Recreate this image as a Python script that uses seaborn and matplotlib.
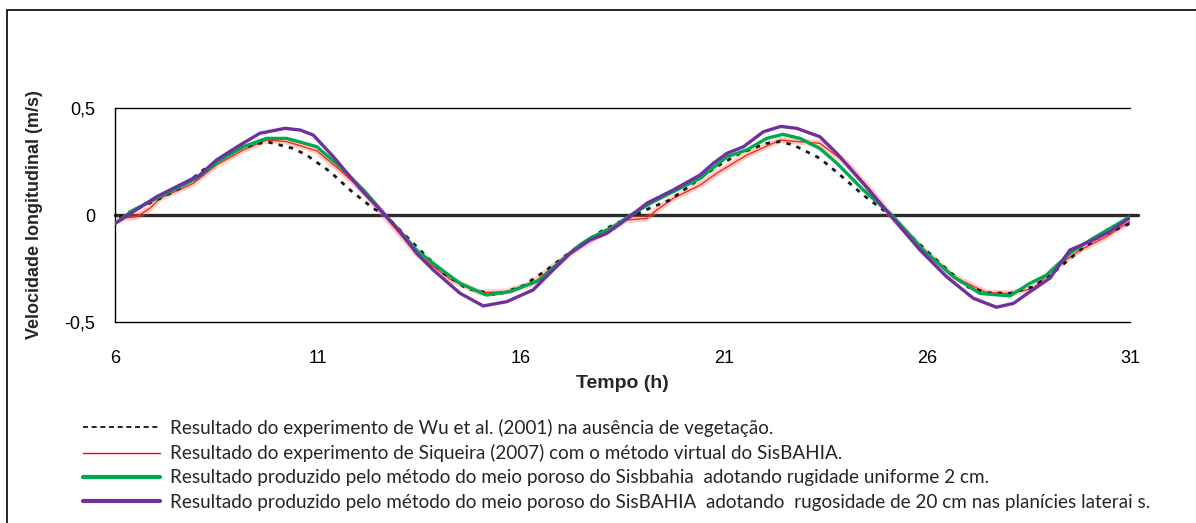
import numpy as np
import pandas as pd
import matplotlib
matplotlib.use("Agg")
import matplotlib.pyplot as plt
import seaborn as sns
from matplotlib.patches import Rectangle
from matplotlib.lines import Line2D
from matplotlib.font_manager import FontProperties

# ---------------- data ----------------
wu_t = [6.1, 6.37, 7.03, 7.60, 8.17, 9.08, 9.73, 10.39, 10.72, 11.30, 11.79, 12.36, 12.65,
        13.43, 14.09, 14.66, 15.40, 16.06, 16.63, 17.45, 18.03, 18.60, 19.26, 19.67, 20.24,
        20.82, 21.39, 22.05, 22.38, 22.71, 23.36, 23.86, 24.43, 25.09, 25.66, 26.32, 26.98,
        27.47, 28.04, 28.62, 29.19, 29.77, 30.26, 31.0]
wu_v = [-0.01, 0.015, 0.070, 0.125, 0.210, 0.311, 0.343, 0.311, 0.280, 0.202, 0.117, 0.031, 0.0,
        -0.148, -0.272, -0.343, -0.374, -0.330, -0.257, -0.140, -0.070, -0.016, 0.039, 0.070, 0.148,
        0.226, 0.288, 0.335, 0.343, 0.327, 0.265, 0.187, 0.093, 0.0, -0.109, -0.226, -0.335,
        -0.363, -0.366, -0.335, -0.257, -0.164, -0.101, -0.039]

siq_t = [6.12, 6.53, 6.86, 7.11, 7.93, 8.5, 9.16, 9.73, 10.23, 10.97, 11.54, 12.12, 12.69,
         13.43, 14.25, 14.99, 15.65, 16.31, 16.79, 17.45, 18.11, 18.60, 19.1, 19.34, 19.75,
         20.41, 20.82, 21.56, 22.38, 23.36, 24.02, 24.6, 25.13, 25.83, 26.65, 27.47, 28.04,
         28.62, 29.19, 29.77, 30.42, 31.0]
siq_v = [-0.016, -0.008, 0.031, 0.078, 0.148, 0.234, 0.304, 0.350, 0.343, 0.300, 0.210, 0.110, -0.016,
         -0.180, -0.300, -0.363, -0.358, -0.319, -0.241, -0.148, -0.078, -0.023, -0.016, 0.023, 0.078,
         0.140, 0.195, 0.280, 0.350, 0.335, 0.242, 0.117, -0.008, -0.148, -0.288, -0.363, -0.366,
         -0.343, -0.241, -0.164, -0.101, -0.030]

green_t = [6.0, 6.45, 7.27, 8.01, 8.59, 9.16, 9.73, 10.23, 10.97, 11.54, 12.12, 12.69, 13.02,
           13.43, 13.84, 14.50, 15.15, 15.73, 16.47, 16.96, 17.45, 17.70, 18.27, 18.77, 19.26,
           19.75, 20.41, 21.07, 21.56, 22.05, 22.45, 22.87, 23.36, 23.78, 24.43, 25.13, 25.91,
           26.65, 27.30, 28.04, 28.54, 28.95, 29.52, 30.02, 31.0]
green_v = [-0.040, 0.023, 0.101, 0.171, 0.257, 0.319, 0.358, 0.358, 0.319, 0.226, 0.117, -0.008, -0.075,
           -0.164, -0.226, -0.320, -0.374, -0.358, -0.304, -0.218, -0.140, -0.109, -0.055, 0.008, 0.062,
           0.109, 0.171, 0.272, 0.304, 0.358, 0.377, 0.358, 0.311, 0.242, 0.117, 0.0, -0.164,
           -0.288, -0.366, -0.378, -0.319, -0.280, -0.179, -0.117, -0.008]

purple_t = [6.0, 6.45, 7.03, 7.85, 8.09, 8.5, 9.08, 9.57, 10.19, 10.56, 10.88, 11.38, 12.03,
            12.69, 13.02, 13.43, 13.84, 14.50, 15.07, 15.65, 16.30, 16.71, 17.21, 17.70, 18.11,
            18.68, 19.1, 19.75, 20.41, 20.74, 21.07, 21.48, 21.97, 22.4, 22.79, 23.36, 23.78,
            24.43, 25.13, 25.83, 26.48, 27.14, 27.71, 28.13, 28.54, 29.03, 29.52, 30.09, 30.5, 31.0]
purple_v = [-0.040, 0.015, 0.086, 0.164, 0.187, 0.257, 0.327, 0.382, 0.405, 0.397, 0.374, 0.272, 0.125,
            -0.008, -0.078, -0.179, -0.257, -0.366, -0.425, -0.405, -0.350, -0.272, -0.179, -0.117, -0.086,
            -0.008, 0.055, 0.117, 0.187, 0.242, 0.288, 0.319, 0.389, 0.414, 0.405, 0.366, 0.288,
            0.148, -0.008, -0.164, -0.288, -0.389, -0.431, -0.413, -0.358, -0.295, -0.164, -0.117, -0.078, -0.012]

labels = [
    "Resultado do experimento de Wu et al. (2001) na ausência de vegetação.",
    "Resultado do experimento de Siqueira (2007) com o método virtual do SisBAHIA.",
    "Resultado produzido pelo método do meio poroso do Sisbbahia  adotando rugidade uniforme 2 cm.",
    "Resultado produzido pelo método do meio poroso do SisBAHIA  adotando  rugosidade de 20 cm nas planícies laterai s.",
]
xticks = [6, 11, 16, 21, 26, 31]
yticks = [-0.5, 0, 0.5]
ytick_labels = ["-0,5", "0", "0,5"]
xlabel = "Tempo (h)"
ylabel = "Velocidade longitudinal (m/s)"

# ---------------- plot ----------------
sns.set_style("white")
plt.rcParams["font.family"] = ["Liberation Sans", "DejaVu Sans"]

W, H = 1196, 523
fig = plt.figure(figsize=(W / 100, H / 100), dpi=100)
ax = fig.add_axes([115 / W, 201 / H, 1015 / W, 214 / H])

# zero line and top grid line
ax.axhline(0, color="#2a2a2a", lw=2.4, xmax=1.008, clip_on=False, zorder=1)
ax.axhline(0.5, color="black", lw=1.0, clip_on=False, zorder=1)

# red (band + core)
sns.lineplot(x=siq_t, y=siq_v, ax=ax, color="#ff6f5e", lw=4.5, alpha=0.35,
             sort=False, estimator=None, zorder=2)
sns.lineplot(x=siq_t, y=siq_v, ax=ax, color="#ff2a1a", lw=1.0,
             sort=False, estimator=None, zorder=3)
# black dashed
sns.lineplot(x=wu_t, y=wu_v, ax=ax, color="#1a1a1a", lw=2.0,
             sort=False, estimator=None, zorder=4)
ax.lines[-1].set_linestyle((0, (1.6, 2.2)))
# green
sns.lineplot(x=green_t, y=green_v, ax=ax, color="#00a84f", lw=2.4,
             sort=False, estimator=None, zorder=5)
# purple
sns.lineplot(x=purple_t, y=purple_v, ax=ax, color="#7030a0", lw=2.4,
             sort=False, estimator=None, zorder=6)

ax.set_xlim(6, 31)
ax.set_ylim(-0.5, 0.5)
ax.set_xticks(xticks)
ax.set_xticklabels([str(t) for t in xticks])
ax.set_yticks(yticks)
ax.set_yticklabels(ytick_labels)
ax.tick_params(axis="x", direction="out", length=6, width=1, color="black",
               labelsize=13, pad=14, labelcolor="black")
ax.tick_params(axis="y", direction="out", length=5, width=1, color="black",
               labelsize=13, pad=9, labelcolor="black")
for s in ["top", "right"]:
    ax.spines[s].set_visible(False)
for s in ["left", "bottom"]:
    ax.spines[s].set_color("black")
    ax.spines[s].set_linewidth(1.0)
ax.grid(False)

ax.set_xlabel(xlabel, fontsize=14, fontweight="bold")
ax.xaxis.set_label_coords(0.5, (322 - 383) / 214)
ax.xaxis.label.set_va("center")
ax.set_ylabel(ylabel, fontsize=13, fontweight="bold")
ax.yaxis.set_label_coords((35 - 115) / 1015, 0.5)
ax.yaxis.label.set_va("center")

# legend
h_wu = Line2D([], [], color="black", lw=1.2, linestyle=(0, (3.0, 2.2)))
h_red = Line2D([], [], color="#ff0000", lw=1.0)
h_green = Line2D([], [], color="#00a84f", lw=3.0)
h_purple = Line2D([], [], color="#7030a0", lw=3.0)
fs = 13.6
fig.legend([h_wu, h_red, h_green, h_purple], labels, loc="upper left",
           bbox_to_anchor=(83 / W, 1 - 419 / H), frameon=False,
           prop=FontProperties(family="Lato", size=fs),
           handlelength=4.1, handletextpad=0.53, labelspacing=0.38,
           borderpad=0, borderaxespad=0)

# outer frame
fig.add_artist(Rectangle((7 / W, -0.1), 1.2, 1.1 - 10 / H, transform=fig.transFigure,
                         fill=False, lw=1.2, ec="black"))

fig.savefig("out.png", dpi=100)
